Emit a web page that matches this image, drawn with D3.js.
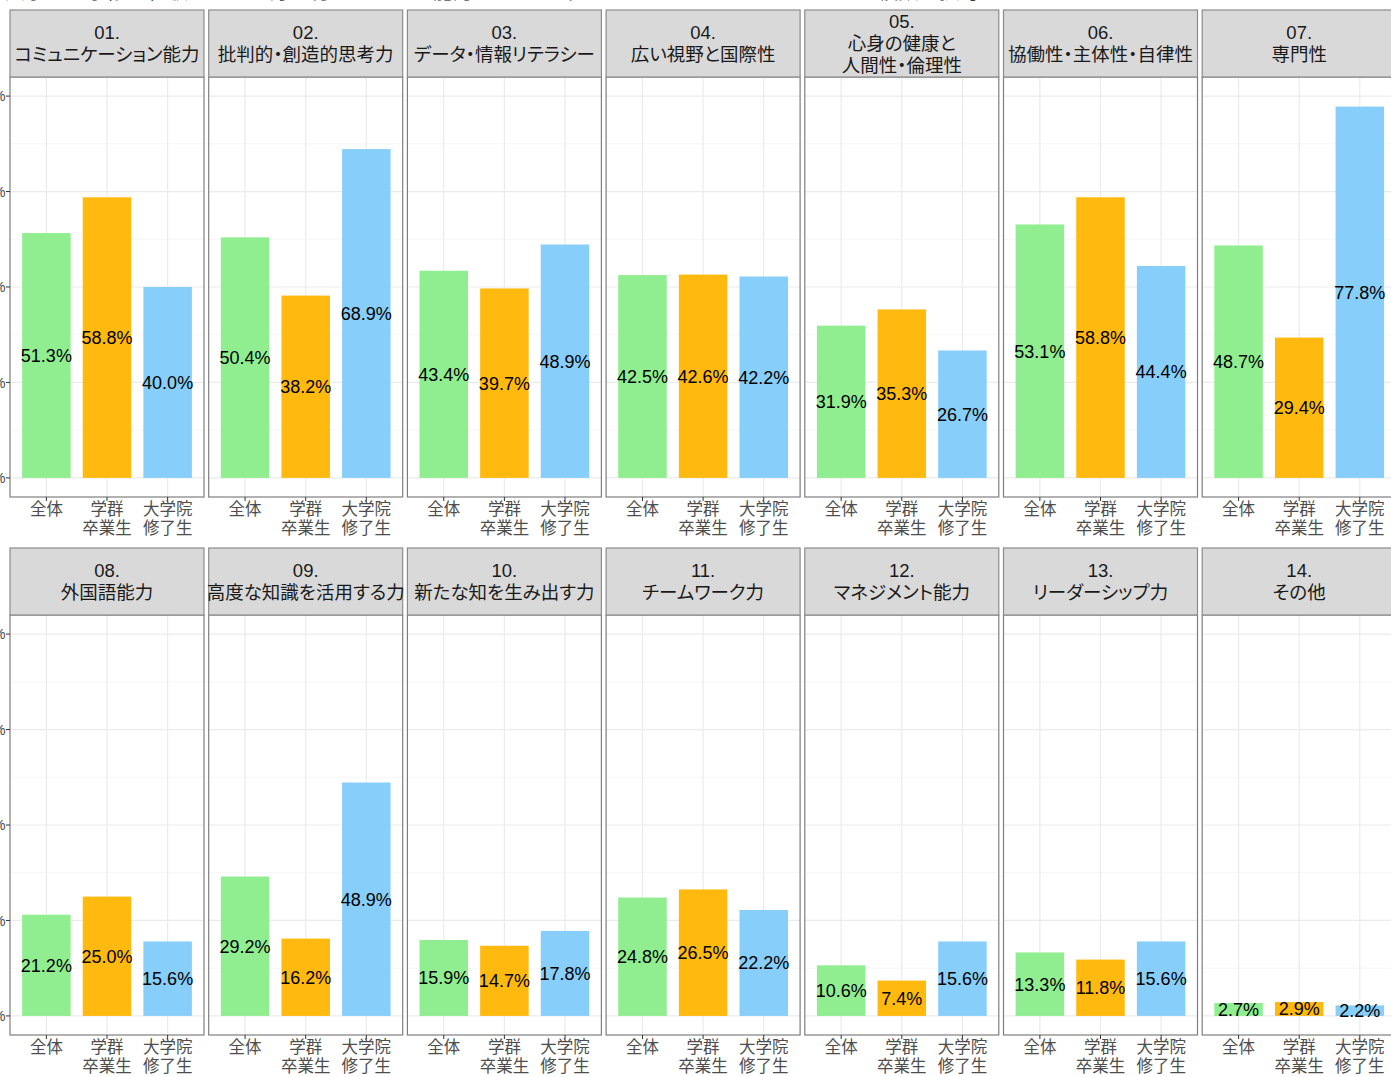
<!DOCTYPE html>
<html>
<head>
<meta charset="utf-8">
<script src="https://cdn.jsdelivr.net/npm/d3@7"></script>
<style>
  html, body { margin: 0; padding: 0; background: #fff; overflow: hidden; }
  svg { display: block; }
</style>
</head>
<body>
<script>
// chart values
const groups = ['全体', '学群\n卒業生', '大学院\n修了生'];
const groupColors = ['#90ee90', '#ffb90f', '#87cefa'];
const facets = [
  '01.\nコミュニケーション能力',
  '02.\n批判的・創造的思考力',
  '03.\nデータ・情報リテラシー',
  '04.\n広い視野と国際性',
  '05.\n心身の健康と\n人間性・倫理性',
  '06.\n協働性・主体性・自律性',
  '07.\n専門性',
  '08.\n外国語能力',
  '09.\n高度な知識を活用する力',
  '10.\n新たな知を生み出す力',
  '11.\nチームワーク力',
  '12.\nマネジメント能力',
  '13.\nリーダーシップ力',
  '14.\nその他'
];
const valAll  = [51.3, 50.4, 43.4, 42.5, 31.9, 53.1, 48.7, 21.2, 29.2, 15.9, 24.8, 10.6, 13.3, 2.7];
const valUg   = [58.8, 38.2, 39.7, 42.6, 35.3, 58.8, 29.4, 25.0, 16.2, 14.7, 26.5, 7.4, 11.8, 2.9];
const valGrad = [40.0, 68.9, 48.9, 42.2, 26.7, 44.4, 77.8, 15.6, 48.9, 17.8, 22.2, 15.6, 15.6, 2.2];
const yTicks = [0, 20, 40, 60, 80];
const yMinor = [10, 30, 50, 70];
const title = '大学での学修や経験を通じて身に付いたと思う能力について当てはまるものを選んでください（複数選択可）';

const W = 1391, H = 1077;
const nCol = 7;
const x0 = 10, pitch = 198.7, panelW = 194;
const stripH = 67, panelH = 420;
const rowTop = [10, 548];
const fontJP = '"Liberation Sans", Arial, "Noto Sans CJK JP", sans-serif';

const svg = d3.select('body').append('svg')
  .attr('width', W)
  .attr('height', H)
  .style('font-family', fontJP);

// title, mostly cropped off the top edge as in the picture
svg.append('text')
  .attr('x', 5)
  .attr('y', -2)
  .attr('textLength', 995)
  .attr('lengthAdjust', 'spacingAndGlyphs')
  .style('font-size', '21px')
  .attr('fill', '#000')
  .text(title);

// ggplot-like discrete axis: bar width 0.8, 0.6 units from edge to first centre
const x = d3.scaleBand()
  .domain(d3.range(groups.length))
  .range([0, panelW])
  .paddingInner(0.2)
  .paddingOuter(0.2);

const y = d3.scaleLinear()
  .domain([-4, 84])
  .range([stripH + panelH, stripH]);

const data = facets.map((f, i) => ({
  label: f,
  values: [valAll[i], valUg[i], valGrad[i]]
}));

const panel = svg.selectAll('g.panel')
  .data(data)
  .join('g')
  .attr('class', 'panel')
  .attr('transform', (d, i) => `translate(${x0 + (i % nCol) * pitch},${rowTop[Math.floor(i / nCol)]})`);

// panel background and grid
panel.append('rect')
  .attr('x', 0).attr('y', stripH)
  .attr('width', panelW).attr('height', panelH)
  .attr('fill', '#fff');

panel.selectAll('line.minor')
  .data(yMinor)
  .join('line')
  .attr('x1', 0).attr('x2', panelW)
  .attr('y1', d => y(d)).attr('y2', d => y(d))
  .attr('stroke', '#f4f4f4').attr('stroke-width', 0.8);

panel.selectAll('line.major')
  .data(yTicks)
  .join('line')
  .attr('x1', 0).attr('x2', panelW)
  .attr('y1', d => y(d)).attr('y2', d => y(d))
  .attr('stroke', '#ebebeb').attr('stroke-width', 1.2);

panel.selectAll('line.vgrid')
  .data(d3.range(groups.length))
  .join('line')
  .attr('x1', d => x(d) + x.bandwidth() / 2).attr('x2', d => x(d) + x.bandwidth() / 2)
  .attr('y1', stripH).attr('y2', stripH + panelH)
  .attr('stroke', '#ebebeb').attr('stroke-width', 1.2);

// bars
panel.selectAll('rect.bar')
  .data(d => d.values)
  .join('rect')
  .attr('class', 'bar')
  .attr('x', (d, j) => x(j))
  .attr('width', x.bandwidth())
  .attr('y', d => y(d))
  .attr('height', d => y(0) - y(d))
  .attr('fill', (d, j) => groupColors[j]);

// value labels in the middle of each bar
panel.selectAll('text.val')
  .data(d => d.values)
  .join('text')
  .attr('class', 'val')
  .attr('x', (d, j) => x(j) + x.bandwidth() / 2)
  .attr('y', d => y(d / 2))
  .attr('dy', '0.36em')
  .attr('text-anchor', 'middle')
  .style('font-size', '18px')
  .attr('fill', '#000')
  .text(d => d.toFixed(1) + '%');

// panel border
panel.append('rect')
  .attr('x', 0).attr('y', stripH)
  .attr('width', panelW).attr('height', panelH)
  .attr('fill', 'none')
  .attr('stroke', '#7f7f7f').attr('stroke-width', 1.2);

// strip
panel.append('rect')
  .attr('x', 0).attr('y', 0)
  .attr('width', panelW).attr('height', stripH)
  .attr('fill', '#d9d9d9')
  .attr('stroke', '#8c8c8c').attr('stroke-width', 1.2);

panel.append('text')
  .attr('text-anchor', 'middle')
  .style('font-size', '18.5px')
  .style('font-feature-settings', '"palt"')
  .attr('fill', '#1a1a1a')
  .each(function(d) {
    const lines = d.label.split('\n');
    const lh = 22;
    const top = stripH / 2 - (lines.length - 1) * lh / 2;
    d3.select(this).selectAll('tspan')
      .data(lines)
      .join('tspan')
      .attr('x', panelW / 2)
      .attr('y', (l, k) => top + k * lh)
      .attr('dy', '0.36em')
      .text(l => l);
  });

// x axis: ticks and two-line group labels
const xAxis = panel.append('g')
  .attr('transform', `translate(0,${stripH + panelH})`);

xAxis.selectAll('line')
  .data(d3.range(groups.length))
  .join('line')
  .attr('x1', d => x(d) + x.bandwidth() / 2).attr('x2', d => x(d) + x.bandwidth() / 2)
  .attr('y1', 0).attr('y2', 4)
  .attr('stroke', '#333');

xAxis.selectAll('text')
  .data(groups)
  .join('text')
  .attr('text-anchor', 'middle')
  .style('font-size', '16.5px')
  .attr('fill', '#4d4d4d')
  .each(function(g, j) {
    d3.select(this).selectAll('tspan')
      .data(g.split('\n'))
      .join('tspan')
      .attr('x', x(j) + x.bandwidth() / 2)
      .attr('y', (l, k) => 12 + k * 19)
      .attr('dy', '0.36em')
      .text(l => l);
  });

// y axis on the first panel of each row, labels run off the left edge
panel.filter((d, i) => i % nCol === 0).each(function() {
  const g = d3.select(this).append('g');
  g.selectAll('line')
    .data(yTicks)
    .join('line')
    .attr('x1', -4).attr('x2', 0)
    .attr('y1', d => y(d)).attr('y2', d => y(d))
    .attr('stroke', '#333');
  g.selectAll('text')
    .data(yTicks)
    .join('text')
    .attr('x', -4.5)
    .attr('y', d => y(d))
    .attr('dy', '0.36em')
    .attr('text-anchor', 'end')
    .style('font-size', '15px')
    .attr('fill', '#4d4d4d')
    .text(d => d + '%');
});
</script>
</body>
</html>
